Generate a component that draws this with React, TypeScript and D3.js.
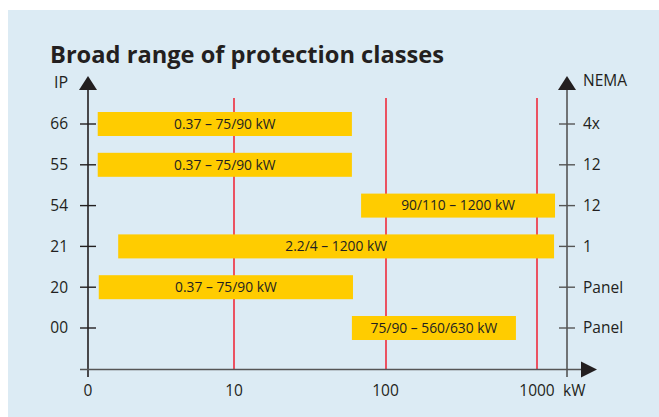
import React from "react";
import * as d3 from "d3";

const ipClasses = ["66", "55", "54", "21", "20", "00"];
const nemaClasses = ["4x", "12", "12", "1", "Panel", "Panel"];
const rangeLabels = [
  "0.37 – 75/90 kW",
  "0.37 – 75/90 kW",
  "90/110 – 1200 kW",
  "2.2/4 – 1200 kW",
  "0.37 – 75/90 kW",
  "75/90 – 560/630 kW",
];
const barStart = [1.26, 1.26, 69, 1.72, 1.28, 60];
const barEnd = [60, 60, 1315, 1296, 61, 726];
const gridValues = [10, 100, 1000];
const xTickLabels = ["10", "100", "1000"];
const originValue = 1.087;

const W = 659;
const H = 417;
const FONT = "'Open Sans', 'Noto Sans', sans-serif";
const TEXT = "#231f20";

export default function App() {
  const x = d3.scaleLog().domain([originValue, 1000]).range([88, 537]);
  const y = d3
    .scalePoint<string>()
    .domain(ipClasses)
    .range([124, 328]);
  const xAxisY = 369.5;
  const leftX = 88;
  const rightX = 567;
  const barH = 24;

  return (
    <svg
      width={W}
      height={H}
      style={{ position: "absolute", left: 0, top: 0, display: "block" }}
    >
      <rect x={0} y={0} width={W} height={H} fill="#ffffff" />
      <rect x={8} y={10} width={W - 8} height={H - 10} fill="#dcebf4" />
      <text
        x={50}
        y={63}
        fontFamily={FONT}
        fontWeight={700}
        fontSize={22.5}
        fill={TEXT}
        textLength={394}
        lengthAdjust="spacingAndGlyphs"
      >
        Broad range of protection classes
      </text>

      {/* red grid lines */}
      {gridValues.map((v) => (
        <line
          key={v}
          x1={Math.round(x(v))}
          x2={Math.round(x(v))}
          y1={98}
          y2={xAxisY}
          stroke="#ef2b3c"
          strokeWidth={1.6}
        />
      ))}

      {/* bars */}
      {ipClasses.map((c, i) => {
        const x0 = x(barStart[i]);
        const x1 = x(barEnd[i]);
        const cy = y(c)!;
        return (
          <g key={i}>
            <rect
              x={x0}
              y={cy - barH / 2}
              width={x1 - x0}
              height={barH}
              fill="#ffcc00"
            />
            <text
              x={(x0 + x1) / 2}
              y={cy}
              dy="0.35em"
              textAnchor="middle"
              fontFamily={FONT}
              fontSize={13.8}
              fill={TEXT}
            >
              {rangeLabels[i]}
            </text>
          </g>
        );
      })}

      {/* left axis */}
      <line x1={leftX} x2={leftX} y1={88} y2={377} stroke="#231f20" strokeWidth={1.6} />
      <path d={`M${leftX - 9},90 L${leftX},76 L${leftX + 9},90 Z`} fill="#231f20" />
      <text x={61} y={82} dy="0.35em" textAnchor="middle" fontFamily={FONT} fontSize={16} fill={TEXT}>
        IP
      </text>
      {ipClasses.map((c) => (
        <g key={c}>
          <line x1={leftX - 8} x2={leftX + 8} y1={y(c)!} y2={y(c)!} stroke="#231f20" strokeWidth={1.4} />
          <text
            x={68}
            y={y(c)!}
            dy="0.35em"
            textAnchor="end"
            fontFamily={FONT}
            fontSize={15.5}
            fill={TEXT}
          >
            {c}
          </text>
        </g>
      ))}

      {/* right axis */}
      <line x1={rightX} x2={rightX} y1={88} y2={377} stroke="#555555" strokeWidth={1.6} />
      <path d={`M${rightX - 9},90 L${rightX},76 L${rightX + 9},90 Z`} fill="#231f20" />
      <text x={583} y={81} dy="0.35em" fontFamily={FONT} fontSize={15.5} fill={TEXT}>
        NEMA
      </text>
      {nemaClasses.map((n, i) => {
        const cy = y(ipClasses[i])!;
        return (
          <g key={i}>
            <line x1={rightX - 8} x2={rightX + 8} y1={cy} y2={cy} stroke="#555555" strokeWidth={1.4} />
            <text x={583} y={cy} dy="0.35em" fontFamily={FONT} fontSize={15.5} fill={TEXT}>
              {n}
            </text>
          </g>
        );
      })}

      {/* x axis */}
      <line x1={80} x2={582} y1={xAxisY} y2={xAxisY} stroke="#555555" strokeWidth={1.6} />
      <path d={`M581,${xAxisY - 8} L597,${xAxisY} L581,${xAxisY + 8} Z`} fill="#231f20" />
      <text x={x(originValue)} y={391} dy="0.35em" textAnchor="middle" fontFamily={FONT} fontSize={15.5} fill={TEXT}>
        0
      </text>
      {gridValues.map((v, i) => (
        <text key={v} x={x(v)} y={391} dy="0.35em" textAnchor="middle" fontFamily={FONT} fontSize={15.5} fill={TEXT}>
          {xTickLabels[i]}
        </text>
      ))}
      <text x={563} y={391} dy="0.35em" fontFamily={FONT} fontSize={15.5} fill={TEXT}>
        kW
      </text>
    </svg>
  );
}
